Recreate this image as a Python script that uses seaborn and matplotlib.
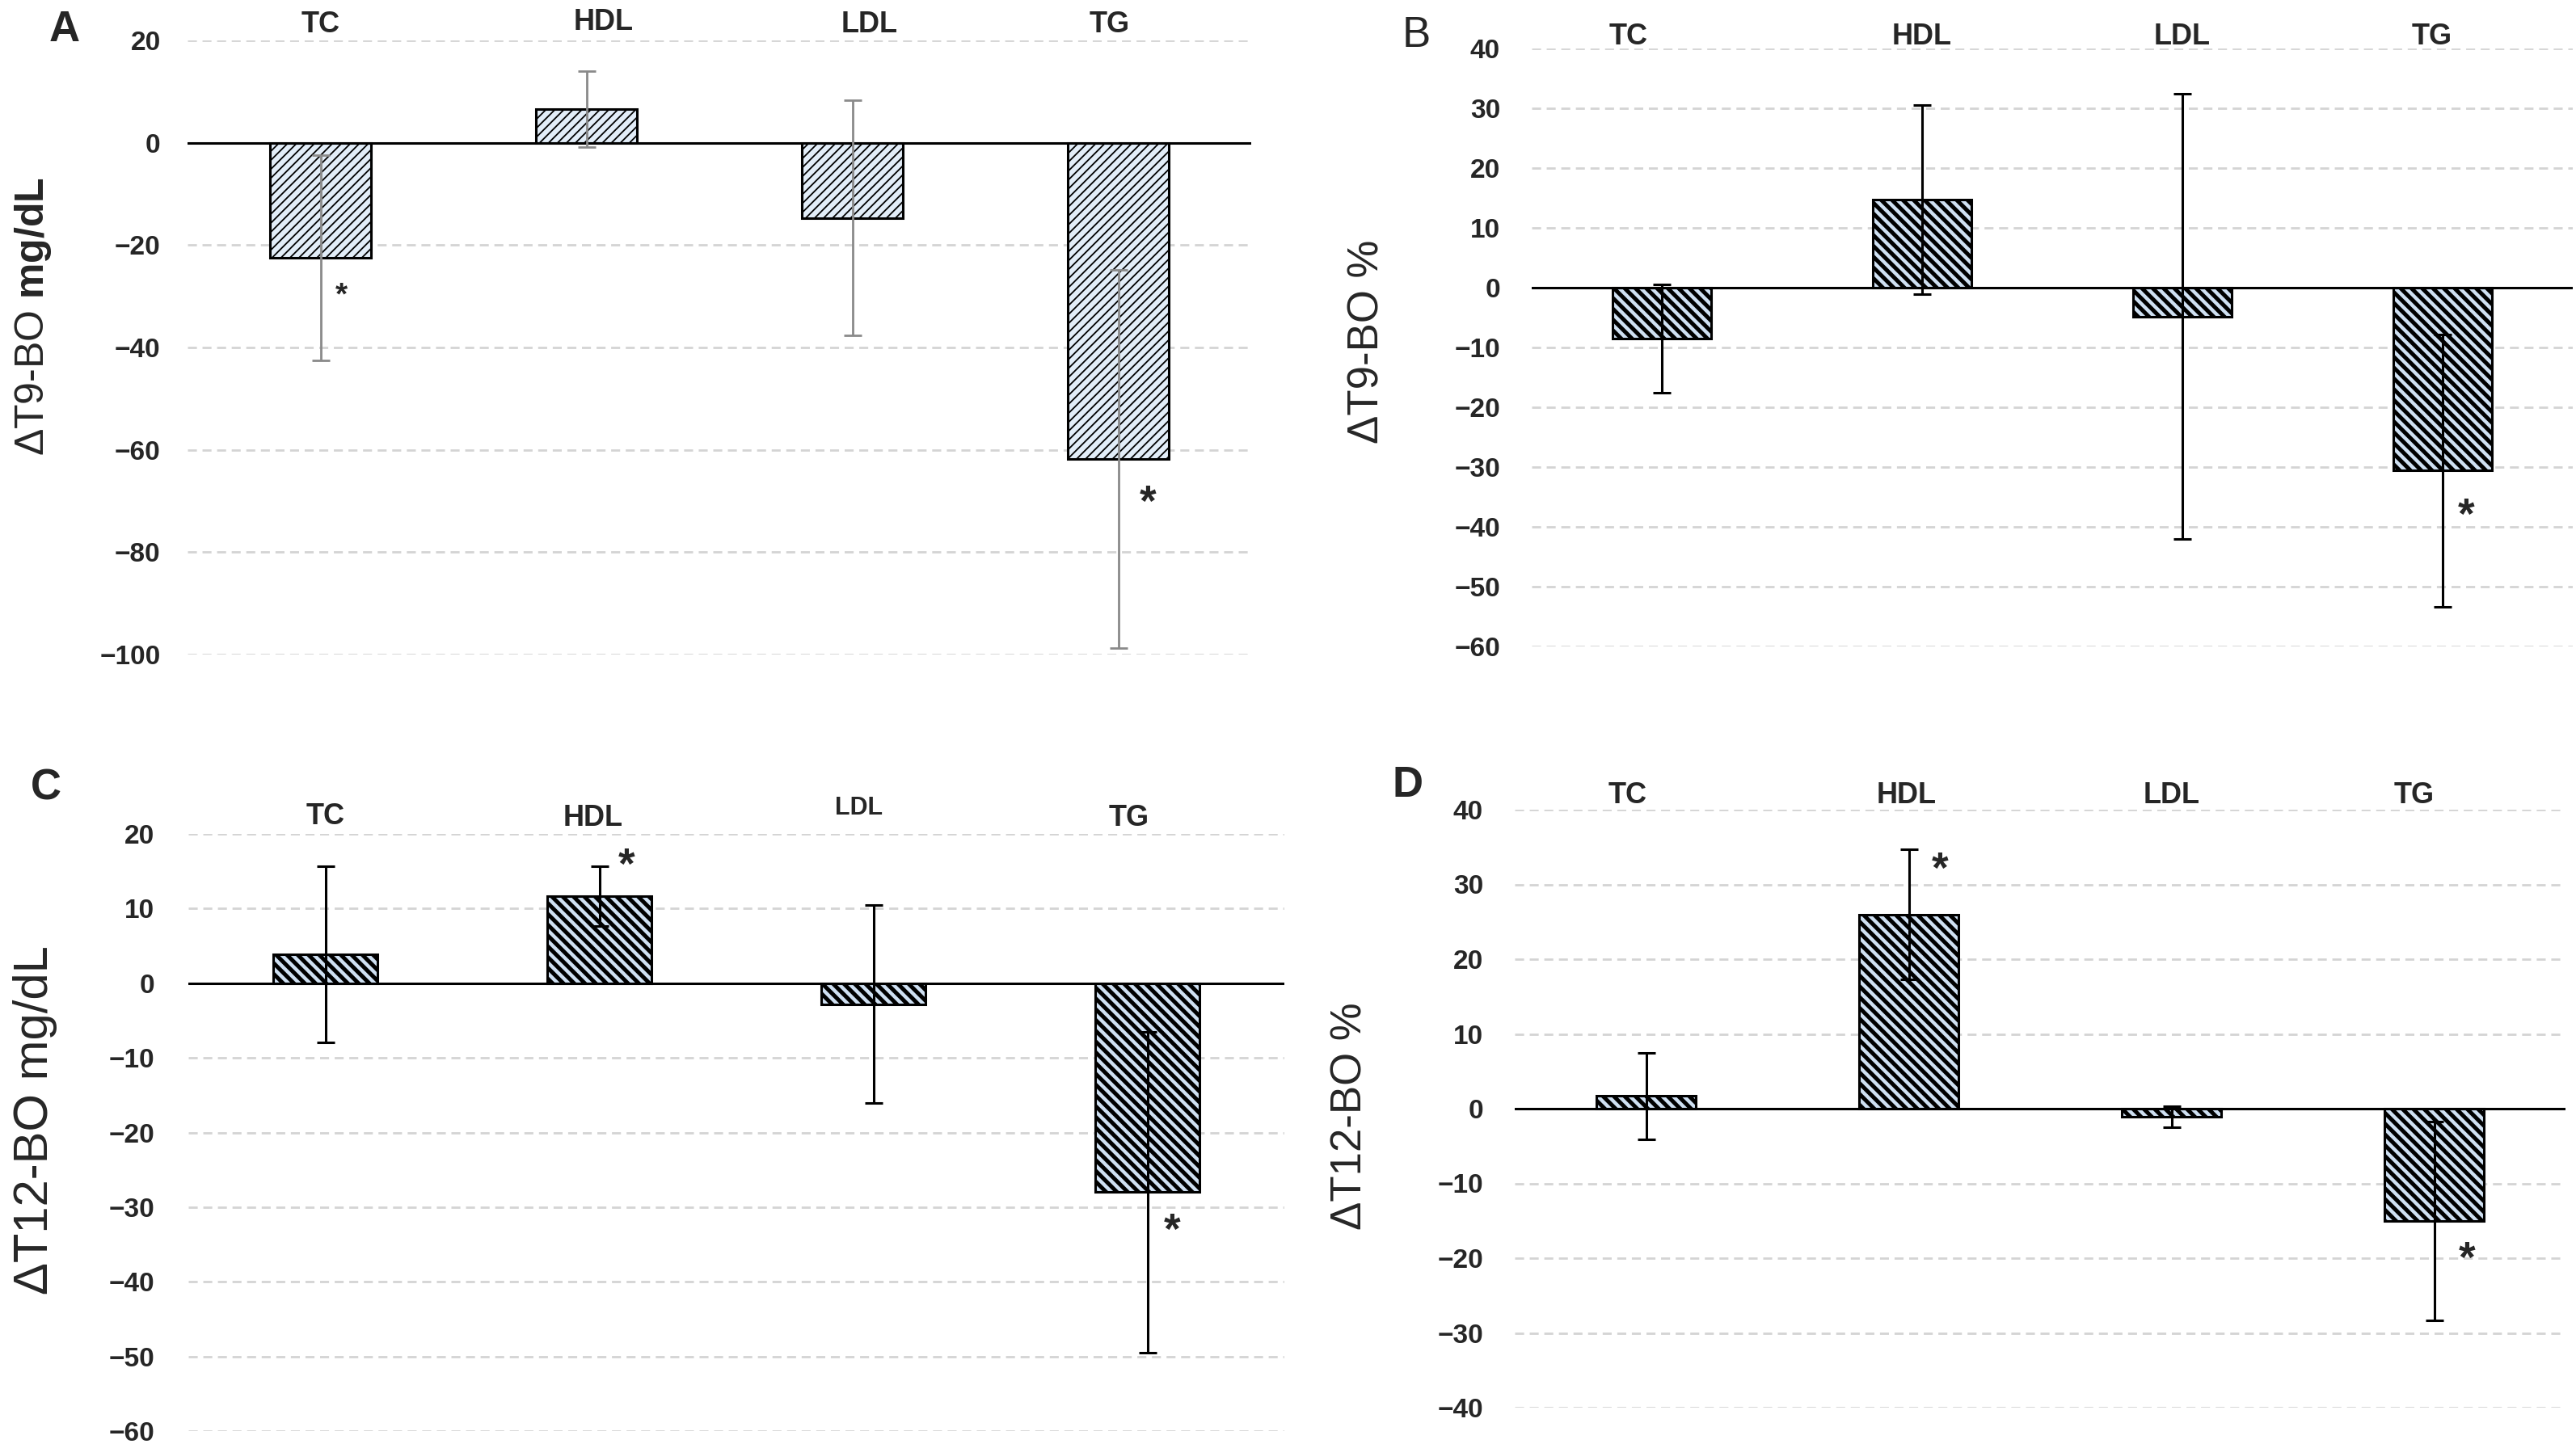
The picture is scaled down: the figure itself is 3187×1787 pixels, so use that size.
import numpy as np
import pandas as pd
import matplotlib
matplotlib.use("Agg")
import matplotlib.pyplot as plt
import seaborn as sns

# ---------------- data ----------------
categories = ["TC", "HDL", "LDL", "TG"]

a_mean = [-22.5, 6.6, -14.7, -61.8]
a_err = [20.0, 7.4, 23.0, 37.0]
b_mean = [-8.5, 14.7, -4.8, -30.6]
b_err = [9.0, 15.8, 37.2, 22.8]
c_mean = [3.9, 11.7, -2.8, -28.0]
c_err = [11.8, 4.0, 13.3, 21.5]
d_mean = [1.7, 26.0, -1.1, -15.0]
d_err = [5.8, 8.7, 1.4, 13.3]

# significance marks: (category, y position of the star)
a_stars = [("TC", -30.0), ("TG", -70.6)]
b_stars = [("TG", -38.4)]
c_stars = [("HDL", 15.6), ("TG", -33.4)]
d_stars = [("HDL", 31.8), ("TG", -20.3)]

a_ticks = [20, 0, -20, -40, -60, -80, -100]
b_ticks = [40, 30, 20, 10, 0, -10, -20, -30, -40, -50, -60]
c_ticks = [20, 10, 0, -10, -20, -30, -40, -50, -60]
d_ticks = [40, 30, 20, 10, 0, -10, -20, -30, -40]

# ---------------- style ----------------
sns.set_theme(style="white")
plt.rcParams["font.family"] = ["Liberation Sans", "DejaVu Sans"]
plt.rcParams["mathtext.fontset"] = "custom"
plt.rcParams["mathtext.rm"] = "Liberation Sans"
plt.rcParams["mathtext.bf"] = "Liberation Sans:bold"

W, H = 3187, 1787
DPI = 200
fig = plt.figure(figsize=(W / DPI, H / DPI), dpi=DPI)
fig.patch.set_facecolor("white")


def box(l, r, t, b):
    return [l / W, 1 - b / H, (r - l) / W, (b - t) / H]


panels = [
    dict(mean=a_mean, err=a_err, stars=a_stars, ticks=a_ticks,
         rect=box(232, 1548, 50, 810), hatch="/" * 6, hlw=0.65,
         face="#e2edf8", ecol="#8a8a8a", elw=1.0, cap=4,
         pad=12, lab_y=1.026, lab_dx=[0.0, 0.064, 0.064, -0.034],
         lab_fs=[13, 13, 13, 13], lab_yy=[0, 0.004, 0, 0],
         star_fs={"TC": 14, "TG": 19}, star_dx={"TC": 0.08, "TG": 0.11},
         ylabel=r"ΔT9-BO $\mathbf{mg/dL}$", ylab_xy=(41, 391), ylab_fs=18,
         letter="A", letter_xy=(80, 37), letter_w="bold"),
    dict(mean=b_mean, err=b_err, stars=b_stars, ticks=b_ticks,
         rect=box(1895, 3183, 60, 800), hatch="\\" * 5, hlw=1.8,
         face="#cfe0f2", ecol="black", elw=1.1, cap=4,
         pad=14, lab_y=1.020, lab_dx=[-0.13, 0.0, 0.0, -0.04],
         lab_fs=[13, 13, 13, 13], lab_yy=[0, 0, 0, 0],
         star_fs={"TG": 19}, star_dx={"TG": 0.09},
         ylabel="ΔT9-BO %", ylab_xy=(1692, 423), ylab_fs=19,
         letter="B", letter_xy=(1752, 44), letter_w="normal"),
    dict(mean=c_mean, err=c_err, stars=c_stars, ticks=c_ticks,
         rect=box(233, 1589, 1032, 1771), hatch="\\" * 5, hlw=1.8,
         face="#cfe0f2", ecol="black", elw=1.1, cap=4,
         pad=15, lab_y=1.027, lab_dx=[0.0, -0.024, -0.053, -0.068],
         lab_fs=[13, 13, 11, 13], lab_yy=[0.002, 0, 0.016, 0],
         star_fs={"HDL": 19, "TG": 19}, star_dx={"HDL": 0.10, "TG": 0.09},
         ylabel="ΔT12-BO mg/dL", ylab_xy=(44, 1386), ylab_fs=21.5,
         letter="C", letter_xy=(57, 975), letter_w="bold"),
    dict(mean=d_mean, err=d_err, stars=d_stars, ticks=d_ticks,
         rect=box(1874, 3174, 1002, 1742), hatch="\\" * 5, hlw=1.8,
         face="#cfe0f2", ecol="black", elw=1.1, cap=4,
         pad=14, lab_y=1.024, lab_dx=[-0.07, -0.01, 0.0, -0.077],
         lab_fs=[13, 13, 13, 13], lab_yy=[0, 0, 0, 0],
         star_fs={"HDL": 19, "TG": 19}, star_dx={"HDL": 0.12, "TG": 0.125},
         ylabel="ΔT12-BO %", ylab_xy=(1670, 1381), ylab_fs=19,
         letter="D", letter_xy=(1742, 972), letter_w="bold"),
]

for p in panels:
    ax = fig.add_axes(p["rect"])
    df = pd.DataFrame({"cat": categories, "val": p["mean"]})
    with plt.rc_context({"hatch.linewidth": p["hlw"]}):
        sns.barplot(data=df, x="cat", y="val", ax=ax, order=categories,
                    color=p["face"], saturation=1, width=0.38,
                    edgecolor="black", linewidth=1.1, hatch=p["hatch"],
                    errorbar=None, zorder=3)
    for patch in ax.patches:
        if hasattr(patch, "set_hatch_linewidth"):
            patch.set_hatch_linewidth(p["hlw"])
    xs = np.arange(len(categories))
    ax.errorbar(xs, p["mean"], yerr=p["err"], fmt="none",
                ecolor=p["ecol"], elinewidth=p["elw"], capsize=p["cap"],
                capthick=p["elw"], zorder=5)
    ax.axhline(0, color="black", lw=1.1, zorder=4)

    lo, hi = min(p["ticks"]), max(p["ticks"])
    ax.set_ylim(lo, hi)
    ax.set_xlim(-0.5, len(categories) - 0.5)
    ax.set_yticks(p["ticks"])
    ax.set_yticklabels([f"{t:d}".replace("-", "\u2212") for t in p["ticks"]],
                       fontsize=12, fontweight="bold")
    ax.tick_params(axis="y", length=0, pad=p["pad"])
    ax.set_xticks([])
    ax.set_xlabel("")
    ax.set_ylabel("")
    for s in ax.spines.values():
        s.set_visible(False)
    ax.grid(axis="y", color="#d4d4d4", lw=1.0, ls=(0, (4, 2.5)), zorder=0)
    ax.grid(axis="x", visible=False)
    ax.set_axisbelow(True)
    ax.patch.set_alpha(0)

    trans = ax.get_xaxis_transform()
    for i, c in enumerate(categories):
        ax.text(i + p["lab_dx"][i], p["lab_y"] + p["lab_yy"][i], c,
                transform=trans, ha="center", va="center",
                fontsize=p["lab_fs"][i], fontweight="bold", clip_on=False)

    for c, y in p["stars"]:
        i = categories.index(c)
        ax.text(i + p["star_dx"][c], y, "*", ha="center", va="center",
                fontsize=p["star_fs"][c], fontweight="bold", zorder=6)

    fx, fy = p["ylab_xy"]
    fig.text(fx / W, 1 - fy / H, p["ylabel"], rotation=90, ha="center",
             va="center", fontsize=p["ylab_fs"])
    lx, ly = p["letter_xy"]
    fig.text(lx / W, 1 - ly / H, p["letter"], ha="center", va="center",
             fontsize=19, fontweight=p["letter_w"])

fig.savefig("out.png", dpi=DPI, facecolor="white")
